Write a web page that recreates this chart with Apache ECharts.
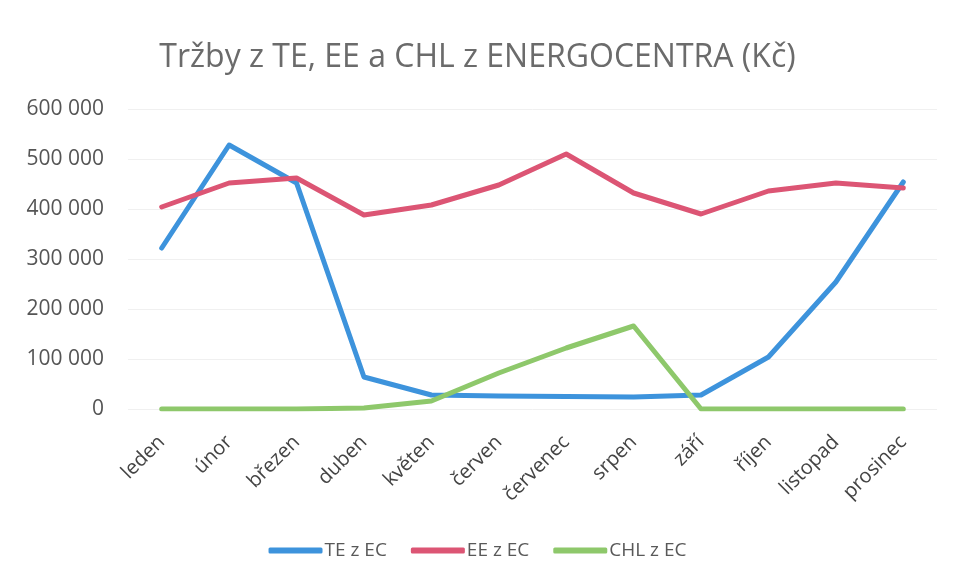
<!DOCTYPE html>
<html>
<head>
<meta charset="utf-8">
<script src="https://cdn.jsdelivr.net/npm/echarts@6/dist/echarts.min.js"></script>
<style>
  html, body { margin: 0; padding: 0; background: #fff; }
  #main { width: 955px; height: 578px; }
</style>
</head>
<body>
<div id="main"></div>
<script>
// mesice
var months = ['leden', 'únor', 'březen', 'duben', 'květen', 'červen',
              'červenec', 'srpen', 'září', 'říjen', 'listopad', 'prosinec'];

// hodnoty (Kc)
var teValues  = [322000, 528000, 452000, 64000, 28000, 26000, 25000, 24000, 28000, 104000, 254000, 454000];
var eeValues  = [404000, 452000, 462000, 388000, 408000, 448000, 510000, 432000, 390000, 436000, 452000, 442000];
var chlValues = [0, 0, 0, 2000, 16000, 72000, 122000, 166000, 0, 0, 0, 0];

var seriesNames = ['TE z EC', 'EE z EC', 'CHL z EC'];
var colors = ['#3d93dc', '#dc5574', '#8ec86b'];

var fontFamily = '"Open Sans", "Noto Sans", sans-serif';

function fmt(v) {
    return String(v).replace(/\B(?=(\d{3})+(?!\d))/g, ' ');
}

var option = {
    backgroundColor: '#fff',
    color: colors,
    title: {
        text: 'Tržby z TE, EE a CHL z ENERGOCENTRA (Kč)',
        left: 'center',
        top: 37,
        textStyle: {
            color: '#6b6b6b',
            fontSize: 32,
            fontWeight: 'normal',
            fontFamily: fontFamily
        }
    },
    legend: {
        top: 536,
        left: 'center',
        itemWidth: 54,
        itemHeight: 6,
        itemGap: 24,
        icon: 'roundRect',
        textStyle: { color: '#595959', fontSize: 19, fontFamily: fontFamily, padding: [0, 0, 0, -3] },
        data: seriesNames
    },
    grid: {
        left: 128,
        right: 18,
        top: 109,
        bottom: 169
    },
    xAxis: {
        type: 'category',
        data: months,
        boundaryGap: true,
        axisLine: { show: false },
        axisTick: { show: false },
        axisLabel: {
            rotate: 45,
            margin: 30,
            color: '#444',
            fontSize: 20,
            fontFamily: fontFamily
        }
    },
    yAxis: {
        type: 'value',
        min: 0,
        max: 600000,
        interval: 100000,
        axisLine: { show: false },
        axisTick: { show: false },
        axisLabel: {
            margin: 24,
            color: '#555',
            fontSize: 21,
            fontFamily: fontFamily,
            formatter: fmt
        },
        splitLine: { lineStyle: { color: '#f0f0f0', width: 1 } }
    },
    series: [
        {
            name: seriesNames[0],
            type: 'line',
            data: teValues,
            symbol: 'none',
            lineStyle: { width: 5, cap: 'round', join: 'round' }
        },
        {
            name: seriesNames[1],
            type: 'line',
            data: eeValues,
            symbol: 'none',
            lineStyle: { width: 5, cap: 'round', join: 'round' }
        },
        {
            name: seriesNames[2],
            type: 'line',
            data: chlValues,
            symbol: 'none',
            lineStyle: { width: 5, cap: 'round', join: 'round' }
        }
    ]
};

var chart = echarts.init(document.getElementById('main'));
chart.setOption(option);
</script>
</body>
</html>
